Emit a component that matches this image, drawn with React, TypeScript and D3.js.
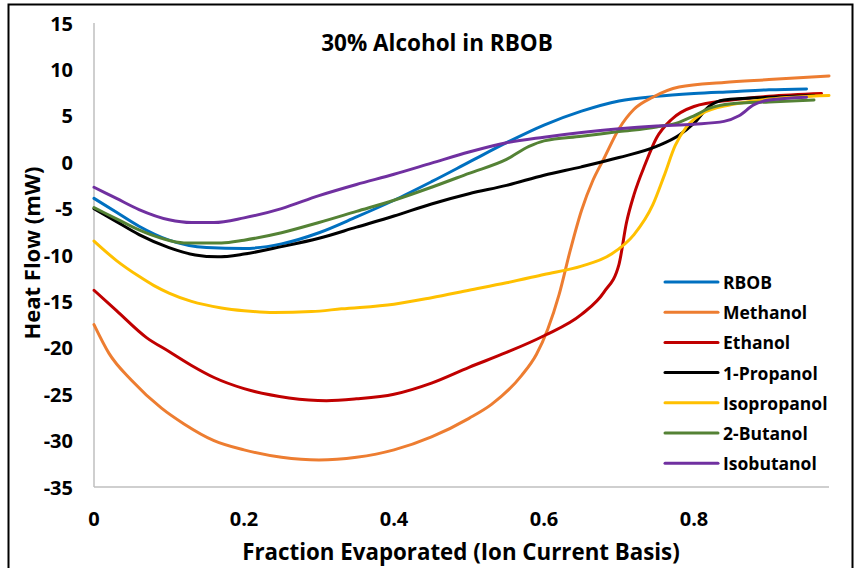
import React from "react";
import * as d3 from "d3";

const title = "30% Alcohol in RBOB";
const xTitle = "Fraction Evaporated (Ion Current Basis)";
const yTitle = "Heat Flow (mW)";
const xTicks = [0, 0.2, 0.4, 0.6, 0.8];
const yTicks = [15, 10, 5, 0, -5, -10, -15, -20, -25, -30, -35];

const seriesNames = ["RBOB", "Methanol", "Ethanol", "1-Propanol", "Isopropanol", "2-Butanol", "Isobutanol"];
const seriesColors = ["#0070C0", "#ED7D31", "#C00000", "#000000", "#FFC000", "#548235", "#7030A0"];

const rbob: [number, number][] = [
  [0, -3.9], [0.03, -5.4], [0.06, -6.9], [0.1, -8.4], [0.15, -9.2], [0.2, -9.3], [0.25, -8.8],
  [0.3, -7.6], [0.35, -5.9], [0.4, -4.1], [0.45, -2.1], [0.5, 0.0], [0.55, 2.1], [0.6, 4.0],
  [0.65, 5.5], [0.7, 6.6], [0.75, 7.1], [0.8, 7.4], [0.85, 7.6], [0.9, 7.8], [0.95, 7.9],
];
const methanol: [number, number][] = [
  [0, -17.5], [0.02, -20.6], [0.05, -23.5], [0.09, -26.5], [0.12, -28.2], [0.16, -30.0], [0.2, -31.0],
  [0.25, -31.8], [0.3, -32.1], [0.35, -31.8], [0.4, -31.0], [0.45, -29.6], [0.5, -27.6], [0.53, -26.1],
  [0.57, -23.0], [0.59, -20.7], [0.605, -18.0], [0.62, -14.3], [0.635, -9.5], [0.65, -5.2], [0.665, -2.0],
  [0.68, 0.4], [0.7, 3.6], [0.72, 5.7], [0.745, 7.0], [0.78, 8.1], [0.84, 8.6], [0.9, 8.9], [0.98, 9.3],
];
const ethanol: [number, number][] = [
  [0, -13.8], [0.03, -16.0], [0.07, -18.9], [0.1, -20.4], [0.13, -21.9], [0.16, -23.2], [0.2, -24.4],
  [0.26, -25.4], [0.31, -25.7], [0.35, -25.5], [0.4, -25.0], [0.45, -23.8], [0.5, -22.1], [0.55, -20.5],
  [0.6, -18.7], [0.65, -16.4], [0.68, -14.0], [0.7, -11.0], [0.71, -6.5], [0.72, -3.5], [0.735, -0.2],
  [0.75, 2.6], [0.77, 4.6], [0.8, 6.0], [0.85, 6.7], [0.9, 7.1], [0.97, 7.4],
];
const propanol1: [number, number][] = [
  [0, -5.0], [0.03, -6.4], [0.06, -7.8], [0.1, -9.2], [0.135, -10.0], [0.165, -10.2], [0.2, -9.9],
  [0.25, -9.1], [0.3, -8.2], [0.35, -7.0], [0.4, -5.8], [0.45, -4.5], [0.5, -3.4], [0.55, -2.5],
  [0.6, -1.4], [0.65, -0.5], [0.7, 0.5], [0.75, 1.7], [0.78, 2.9], [0.8, 4.2], [0.82, 6.0], [0.84, 6.7],
  [0.9, 7.0], [0.96, 7.2],
];
const isopropanol: [number, number][] = [
  [0, -8.5], [0.03, -10.6], [0.06, -12.3], [0.08, -13.3], [0.1, -14.1], [0.13, -15.0], [0.17, -15.7],
  [0.2, -16.0], [0.24, -16.2], [0.29, -16.1], [0.33, -15.8], [0.4, -15.3], [0.45, -14.6], [0.5, -13.8],
  [0.55, -13.0], [0.6, -12.1], [0.65, -11.2], [0.69, -9.9], [0.72, -7.8], [0.745, -4.6], [0.76, -1.5],
  [0.775, 1.8], [0.79, 3.8], [0.81, 5.2], [0.85, 6.2], [0.9, 6.8], [0.98, 7.2],
];
const butanol2: [number, number][] = [
  [0, -4.9], [0.03, -6.1], [0.06, -7.3], [0.09, -8.2], [0.12, -8.7], [0.17, -8.7], [0.2, -8.4],
  [0.25, -7.6], [0.3, -6.5], [0.35, -5.3], [0.4, -4.1], [0.45, -2.7], [0.5, -1.2], [0.55, 0.3],
  [0.58, 1.7], [0.6, 2.3], [0.65, 2.8], [0.7, 3.3], [0.75, 3.8], [0.78, 4.3], [0.8, 5.0], [0.82, 5.8],
  [0.85, 6.3], [0.9, 6.5], [0.96, 6.7],
];
const isobutanol: [number, number][] = [
  [0, -2.7], [0.03, -3.9], [0.06, -5.1], [0.1, -6.2], [0.13, -6.5], [0.16, -6.5], [0.2, -6.0],
  [0.25, -5.0], [0.3, -3.6], [0.35, -2.4], [0.4, -1.3], [0.45, -0.1], [0.5, 1.1], [0.55, 2.1],
  [0.6, 2.7], [0.65, 3.2], [0.7, 3.6], [0.75, 3.9], [0.8, 4.1], [0.84, 4.4], [0.86, 5.0], [0.88, 6.2],
  [0.9, 6.7], [0.95, 7.0],
];

const seriesData = [rbob, methanol, ethanol, propanol1, isopropanol, butanol2, isobutanol];

const W = 857;
const H = 568;
const plotLeft = 94;
const plotRight = 829;
const plotTop = 23;
const plotBottom = 487;
const FONT = "'Open Sans', 'DejaVu Sans', sans-serif";

export default function App() {
  const x = d3.scaleLinear().domain([0, 0.98]).range([plotLeft, plotRight]);
  const y = d3.scaleLinear().domain([-35, 15]).range([plotBottom, plotTop]);
  const line = d3
    .line<[number, number]>()
    .x((d) => x(d[0]))
    .y((d) => y(d[1]))
    .curve(d3.curveMonotoneX);

  const legendX = 665;
  const legendY0 = 282;
  const legendDy = 30.2;

  return (
    <svg
      width={W}
      height={H}
      style={{ position: "absolute", left: 0, top: 0, background: "#fff" }}
      fontFamily={FONT}
    >
      <rect x={0} y={0} width={W} height={H} fill="#fff" />
      <rect x={8.5} y={4.5} width={844} height={580} fill="none" stroke="#000" strokeWidth={2} />

      {/* axes */}
      <line x1={plotLeft} x2={plotLeft} y1={plotTop} y2={plotBottom} stroke="#BFBFBF" strokeWidth={1.5} />
      <line x1={plotLeft} x2={plotRight} y1={plotBottom} y2={plotBottom} stroke="#BFBFBF" strokeWidth={1.5} />

      {yTicks.map((t) => (
        <text key={"y" + t} x={73} y={y(t)} textAnchor="end" dominantBaseline="central" fontSize={20} fontWeight={700} fill="#000">
          {t}
        </text>
      ))}
      {xTicks.map((t) => (
        <text key={"x" + t} x={x(t)} y={518} textAnchor="middle" dominantBaseline="central" fontSize={20} fontWeight={700} fill="#000">
          {t}
        </text>
      ))}

      <text x={461} y={551} textAnchor="middle" dominantBaseline="central" fontSize={22.3} fontWeight={700} fill="#000">
        {xTitle}
      </text>
      <text
        transform={`translate(31,253) rotate(-90)`}
        textAnchor="middle"
        dominantBaseline="central"
        fontSize={22}
        fontWeight={700}
        fill="#000"
      >
        {yTitle}
      </text>
      <text x={437} y={42} textAnchor="middle" dominantBaseline="central" fontSize={22.5} fontWeight={700} fill="#000">
        {title}
      </text>

      {/* series */}
      {seriesData.map((d, i) => (
        <path key={seriesNames[i]} d={line(d) || ""} fill="none" stroke={seriesColors[i]} strokeWidth={3} strokeLinejoin="round" strokeLinecap="round" />
      ))}

      {/* legend */}
      {seriesNames.map((n, i) => (
        <g key={"lg" + n}>
          <line
            x1={legendX}
            x2={legendX + 53}
            y1={legendY0 + i * legendDy}
            y2={legendY0 + i * legendDy}
            stroke={seriesColors[i]}
            strokeWidth={3}
            strokeLinecap="round"
          />
          <text x={legendX + 58} y={legendY0 + i * legendDy} dominantBaseline="central" fontSize={17.5} fontWeight={700} fill="#000">
            {n}
          </text>
        </g>
      ))}
    </svg>
  );
}
